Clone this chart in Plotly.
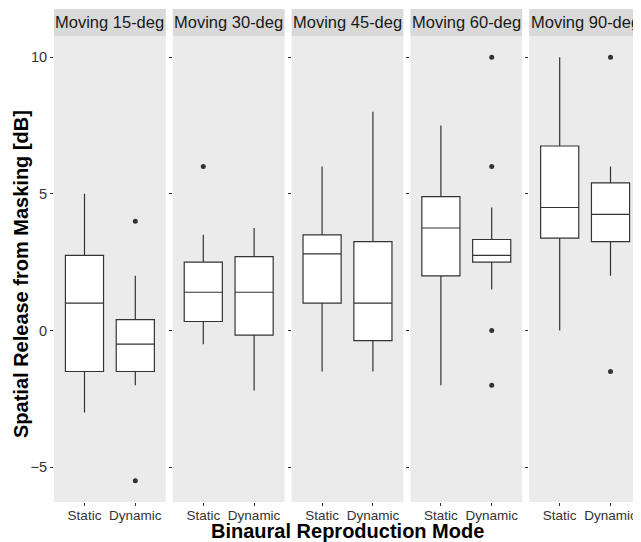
import plotly.graph_objects as go
from plotly.subplots import make_subplots

conditions = ["Moving 15-deg", "Moving 30-deg", "Moving 45-deg", "Moving 60-deg", "Moving 90-deg"]
modes = ["Static", "Dynamic"]

static_low = [-3.0, -0.5, -1.5, -2.0, 0.0]
static_q1 = [-1.5, 0.33, 1.0, 2.0, 3.38]
static_median = [1.0, 1.4, 2.8, 3.75, 4.5]
static_q3 = [2.75, 2.5, 3.5, 4.9, 6.75]
static_high = [5.0, 3.5, 6.0, 7.5, 10.0]
static_outliers = [[], [6.0], [], [], []]

dynamic_low = [-2.0, -2.2, -1.5, 1.5, 2.0]
dynamic_q1 = [-1.5, -0.17, -0.37, 2.5, 3.25]
dynamic_median = [-0.5, 1.4, 1.0, 2.75, 4.25]
dynamic_q3 = [0.4, 2.7, 3.25, 3.33, 5.4]
dynamic_high = [2.0, 3.75, 8.0, 4.5, 6.0]
dynamic_outliers = [[4.0, -5.5], [], [], [10.0, 6.0, 0.0, -2.0], [10.0, -1.5]]

# page body adds an 8px offset; figure sized so the panels land where the reference has them
OFF = 8
W, H = 641 - OFF, 542 - OFF
ML, MR, MT, MB = 54 - OFF, 0, 36 - OFF, 542 - 502
PW = W - ML - MR
PH = H - MT - MB

fig = make_subplots(rows=1, cols=5, shared_yaxes=True, horizontal_spacing=7 / PW)

line_col = "#333333"
for i, cond in enumerate(conditions):
    col = i + 1
    fig.add_trace(go.Box(
        x=modes,
        q1=[static_q1[i], dynamic_q1[i]],
        median=[static_median[i], dynamic_median[i]],
        q3=[static_q3[i], dynamic_q3[i]],
        lowerfence=[static_low[i], dynamic_low[i]],
        upperfence=[static_high[i], dynamic_high[i]],
        fillcolor="white",
        line=dict(color=line_col, width=1.2),
        whiskerwidth=0,
        width=0.75,
        boxpoints=False,
        showlegend=False,
    ), row=1, col=col)
    ox = ["Static"] * len(static_outliers[i]) + ["Dynamic"] * len(dynamic_outliers[i])
    oy = static_outliers[i] + dynamic_outliers[i]
    if oy:
        fig.add_trace(go.Scatter(
            x=ox, y=oy, mode="markers",
            marker=dict(color="#333333", size=5),
            showlegend=False,
        ), row=1, col=col)
    xname = "x" if col == 1 else f"x{col}"
    yname = "y" if col == 1 else f"y{col}"
    fig.add_shape(type="rect", xref=f"{xname} domain", yref=f"{yname} domain",
                  x0=0, x1=1, y0=1, y1=1 + 27 / PH,
                  fillcolor="#D9D9D9", line=dict(width=0), layer="below")
    fig.add_annotation(text=cond, xref=f"{xname} domain", yref=f"{yname} domain",
                       x=0.5, y=1 + 13.5 / PH, xanchor="center", yanchor="middle",
                       showarrow=False,
                       font=dict(family="Liberation Sans, Arial", size=16.5, color="#1A1A1A"))

fig.update_xaxes(type="category", categoryorder="array", categoryarray=modes,
                 range=[-0.6, 1.6], showgrid=False, zeroline=False,
                 ticks="outside", ticklen=3, tickcolor="#333333",
                 ticklabelstandoff=-2,
                 tickfont=dict(family="Liberation Sans, Arial", size=13.5, color="#333333"),
                 showline=False)
fig.update_yaxes(range=[-6.275, 10.775], tickvals=[-5, 0, 5, 10],
                 showgrid=False, zeroline=False,
                 ticks="outside", ticklen=3, tickcolor="#333333",
                 tickfont=dict(family="Liberation Sans, Arial", size=14.5, color="#333333"),
                 showline=False)
fig.update_yaxes(showticklabels=True, row=1, col=1)

fig.add_annotation(text="<b>Spatial Release from Masking [dB]</b>", xref="paper", yref="paper",
                   x=-(ML - (21 - OFF)) / PW, y=(502 - 274) / PH, textangle=-90,
                   xanchor="center", yanchor="middle", showarrow=False,
                   font=dict(family="Liberation Sans, Arial", size=20, color="black"))
fig.add_annotation(text="<b>Binaural Reproduction Mode</b>", xref="paper", yref="paper",
                   x=(347.5 - 54) / PW, y=-(531 - 502) / PH,
                   xanchor="center", yanchor="middle", showarrow=False,
                   font=dict(family="Liberation Sans, Arial", size=20, color="black"))

fig.update_layout(width=W, height=H, margin=dict(l=ML, r=MR, t=MT, b=MB),
                  plot_bgcolor="#EBEBEB", paper_bgcolor="white")

fig.write_html("out.html")
